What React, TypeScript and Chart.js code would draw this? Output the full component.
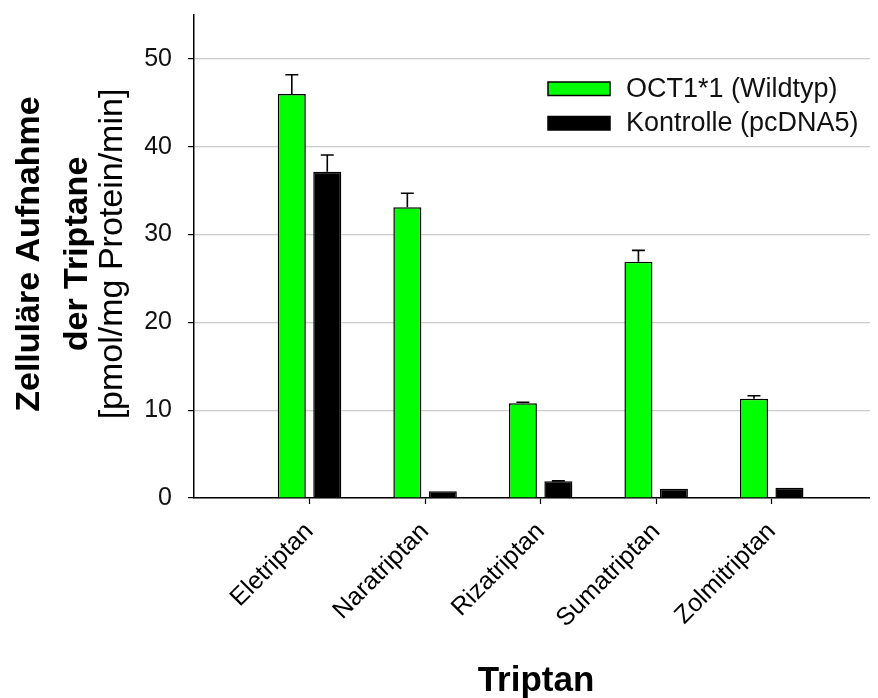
import React, { useEffect, useRef } from 'react';
import { Chart, registerables } from 'chart.js';

Chart.register(...registerables);

const categories = ['Eletriptan', 'Naratriptan', 'Rizatriptan', 'Sumatriptan', 'Zolmitriptan'];
const oct1Values = [46.0, 33.1, 10.8, 26.9, 11.3];
const oct1Errors = [2.2, 1.6, 0.1, 1.3, 0.35];
const controlValues = [37.15, 0.78, 1.9, 1.05, 1.16];
const controlErrors = [1.9, 0, 0.05, 0, 0];
const seriesLabels = ['OCT1*1 (Wildtyp)', 'Kontrolle (pcDNA5)'];
const seriesColors = ['#00ff00', '#000000'];
const yTickValues = [0, 10, 20, 30, 40, 50];
const yTitleLines = ['Zelluläre Aufnahme', 'der Triptane', '[pmol/mg Protein/min]'];
const xTitle = 'Triptan';

const FONT = "'Liberation Sans', Arial, Helvetica, sans-serif";

const errorBarPlugin = {
  id: 'errorBars',
  afterDatasetsDraw(chart: any) {
    const ctx = chart.ctx;
    const yScale = chart.scales.y;
    chart.data.datasets.forEach((ds: any, di: number) => {
      const meta = chart.getDatasetMeta(di);
      meta.data.forEach((bar: any, i: number) => {
        const err = ds.errors[i];
        if (!err) return;
        const v = ds.data[i].y;
        const base = yScale.getPixelForValue(v);
        const top = yScale.getPixelForValue(v + err);
        ctx.save();
        ctx.strokeStyle = '#000';
        ctx.lineWidth = 1.6;
        ctx.beginPath();
        ctx.moveTo(bar.x, base);
        ctx.lineTo(bar.x, top);
        ctx.moveTo(bar.x - 6.5, top);
        ctx.lineTo(bar.x + 6.5, top);
        ctx.stroke();
        ctx.restore();
      });
    });
  },
};

const legendPlugin = {
  id: 'customLegend',
  afterDraw(chart: any) {
    const ctx = chart.ctx;
    const area = chart.chartArea;
    const left = area.left + 354;
    const top0 = area.top + 67;
    const rowGap = 34.5;
    ctx.save();
    chart.data.datasets.forEach((ds: any, i: number) => {
      const top = top0 + i * rowGap;
      ctx.fillStyle = ds.backgroundColor;
      ctx.fillRect(left, top, 62, 13.5);
      ctx.strokeStyle = '#000';
      ctx.lineWidth = 1.5;
      ctx.strokeRect(left, top, 62, 13.5);
      ctx.fillStyle = '#111';
      ctx.font = `27px ${FONT}`;
      ctx.textAlign = 'left';
      ctx.textBaseline = 'middle';
      ctx.fillText(ds.label, left + 78, top + 7.5);
    });
    ctx.restore();
  },
};

const yTitlePlugin = {
  id: 'yTitle',
  afterDraw(chart: any) {
    const ctx = chart.ctx;
    const cy = 246;
    const baselines = [31, 79, 114];
    const fonts = [`bold 34px ${FONT}`, `bold 34px ${FONT}`, `34px ${FONT}`];
    ctx.save();
    ctx.fillStyle = '#000';
    yTitleLines.forEach((line, i) => {
      ctx.save();
      ctx.translate(baselines[i], cy);
      ctx.rotate(-Math.PI / 2);
      ctx.font = fonts[i];
      ctx.textAlign = 'center';
      ctx.textBaseline = 'alphabetic';
      ctx.fillText(line, 0, 0);
      ctx.restore();
    });
    ctx.restore();
  },
};

export default function App() {
  const canvasRef = useRef<HTMLCanvasElement | null>(null);

  useEffect(() => {
    const canvas = canvasRef.current;
    if (!canvas) return;
    const chart = new Chart(canvas, {
      type: 'bar',
      data: {
        datasets: [
          {
            label: seriesLabels[0],
            data: oct1Values.map((v, i) => ({ x: i, y: v })),
            errors: oct1Errors,
            backgroundColor: seriesColors[0],
            borderColor: '#000',
            borderWidth: 1.5,
            categoryPercentage: 0.614,
            barPercentage: 0.79,
          } as any,
          {
            label: seriesLabels[1],
            data: controlValues.map((v, i) => ({ x: i, y: v })),
            errors: controlErrors,
            backgroundColor: seriesColors[1],
            borderColor: '#000',
            borderWidth: 1.5,
            categoryPercentage: 0.614,
            barPercentage: 0.79,
          } as any,
        ],
      },
      options: {
        responsive: false,
        animation: false,
        layout: { padding: { top: 7, right: 0, left: 0, bottom: 0 } },
        plugins: {
          legend: { display: false },
          tooltip: { enabled: false },
        },
        scales: {
          x: {
            type: 'linear',
            min: -1,
            max: 4.92,
            offset: false,
            afterBuildTicks: (scale: any) => {
              scale.ticks = categories.map((_, i) => ({ value: i }));
            },
            afterFit: (scale: any) => {
              scale.height = 200;
              scale.paddingLeft = 0;
              scale.paddingRight = 0;
            },
            grid: {
              offset: false,
              drawOnChartArea: false,
              drawTicks: true,
              tickLength: 6,
              tickColor: '#000',
              tickWidth: 1.2,
            },
            border: { display: true, color: '#000', width: 1.5 },
            ticks: {
              autoSkip: false,
              maxRotation: 45,
              minRotation: 45,
              padding: 13,
              color: '#000',
              font: { size: 25, family: FONT },
              callback: (v: any) => categories[Math.round(Number(v))] ?? '',
            },
            title: {
              display: true,
              text: xTitle,
              color: '#000',
              font: { size: 35, weight: 'bold', family: FONT },
              padding: { top: 0, bottom: -4 },
            },
          },
          y: {
            type: 'linear',
            min: 0,
            max: 55,
            afterBuildTicks: (scale: any) => {
              scale.ticks = yTickValues.map((v) => ({ value: v }));
            },
            afterFit: (scale: any) => {
              scale.width = 186;
              scale.paddingTop = 0;
              scale.paddingBottom = 0;
            },
            grid: {
              color: '#cccccc',
              lineWidth: 1.2,
              drawTicks: true,
              tickLength: 6,
              tickColor: '#000',
              tickWidth: 1.2,
            },
            border: { display: true, color: '#000', width: 1.5 },
            ticks: {
              padding: 16,
              color: '#111',
              font: { size: 25, family: FONT },
            },
          },
        },
      } as any,
      plugins: [errorBarPlugin, legendPlugin, yTitlePlugin],
    });
    return () => chart.destroy();
  }, []);

  return <canvas ref={canvasRef} width={870} height={690} style={{ display: 'block' }} />;
}
